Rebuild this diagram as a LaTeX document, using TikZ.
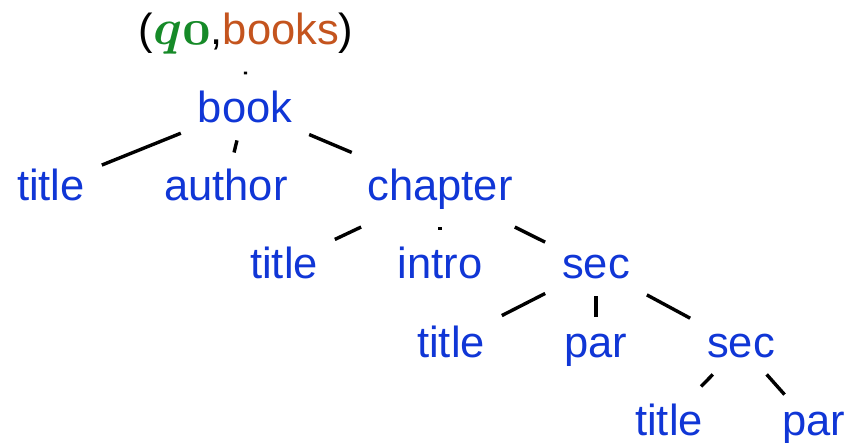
\documentclass[tikz,border=0pt]{standalone}
\usepackage{fix-cm}
\usepackage{fontspec}
\setmainfont{Liberation Sans}
\definecolor{tagblue}{RGB}{16,54,214}
\definecolor{stategreen}{RGB}{22,138,40}
\definecolor{docorange}{RGB}{196,84,30}

\begin{document}
\begin{tikzpicture}[x=1pt,y=-1pt]
		\tikzstyle{tag}=[tagblue,inner sep=17pt,outer sep=0pt,anchor=base,font=\fontsize{43.5}{52}\selectfont]
		\tikzstyle{branch}=[line width=3.4pt]

		\useasboundingbox (0,0) rectangle (848,443);

		\node[tag,black] (run) at (246,45) {(\textcolor{stategreen}{\fontsize{50}{60}\selectfont\boldmath$q\mathnormal{0}$},\textcolor{docorange}{books})};
		\node[tag] (book) at (245,123) {book};
		\foreach \name / \txt / \x / \y in {title1/title/51/201,author/author/226/201,chapter/chapter/440/201,title2/title/284/279,intro/intro/440/279,sec1/sec/596/279,title3/title/451/357,par1/par/596/357,sec2/sec/741/357,title4/title/669/435,par2/par/814/435}
			{ \node[tag] (\name) at (\x,\y) {\txt}; }

		\foreach \a / \b in {run/book,book/title1,book/author,book/chapter,chapter/title2,chapter/intro,chapter/sec1,sec1/title3,sec1/par1,sec1/sec2,sec2/title4,sec2/par2}
			{ \draw[branch] (\a) -- (\b); }
\end{tikzpicture}
\end{document}
